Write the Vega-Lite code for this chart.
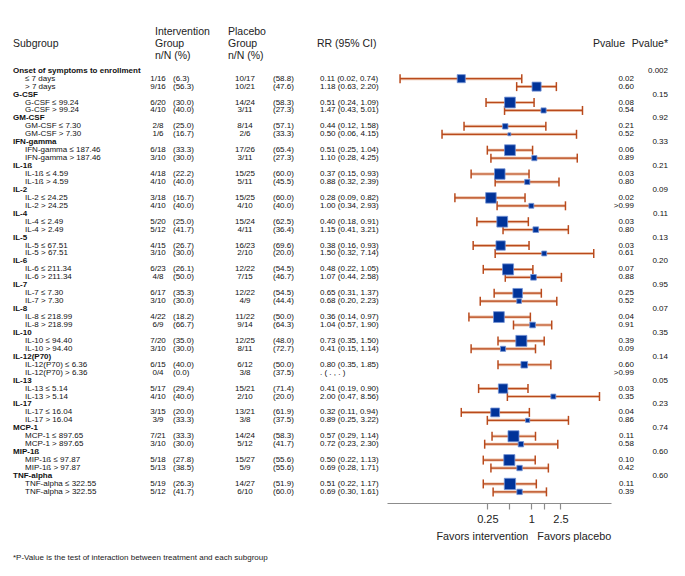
{
  "$schema": "https://vega.github.io/schema/vega-lite/v6.json",
  "padding": {"left": 13, "right": 17, "top": 0, "bottom": 0},
  "background": "white",
  "spacing": 0,
  "bounds": "flush",
  "config": {
    "view": {"stroke": null},
    "font": "Liberation Sans",
    "text": {"font": "Liberation Sans", "fontSize": 8, "color": "#111111", "baseline": "middle"}
  },
  "datasets": {
    "headers": [
      {"col": "sub", "text": "Subgroup"},
      {"col": "int", "text": "Intervention\nGroup\nn/N (%)"},
      {"col": "pla", "text": "Placebo\nGroup\nn/N (%)"},
      {"col": "rr", "text": "RR (95% CI)"},
      {"col": "p", "text": "Pvalue"},
      {"col": "pint", "text": "Pvalue*"},
      {"col": "favint", "text": "Favors intervention"},
      {"col": "favpla", "text": "Favors placebo"},
      {"col": "note", "text": "*P-Value is the test of interaction between treatment and each subgroup"}
    ],
    "rows": [
      {"r": 0, "kind": "head", "label": "Onset of symptoms to enrollment", "pint": "0.002"},
      {"r": 1, "kind": "item", "label": "≤ 7 days", "int_n": "1/16", "int_p": "(6.3)", "pla_n": "10/17", "pla_p": "(58.8)", "rr_txt": "0.11 (0.02, 0.74)", "rr": 0.11, "lo": 0.016, "hi": 0.74, "p": "0.02", "N": 33},
      {"r": 2, "kind": "item", "label": "> 7 days", "int_n": "9/16", "int_p": "(56.3)", "pla_n": "10/21", "pla_p": "(47.6)", "rr_txt": "1.18 (0.63, 2.20)", "rr": 1.18, "lo": 0.63, "hi": 2.2, "p": "0.60", "N": 37},
      {"r": 3, "kind": "head", "label": "G-CSF", "pint": "0.15"},
      {"r": 4, "kind": "item", "label": "G-CSF ≤ 99.24", "int_n": "6/20", "int_p": "(30.0)", "pla_n": "14/24", "pla_p": "(58.3)", "rr_txt": "0.51 (0.24, 1.09)", "rr": 0.51, "lo": 0.24, "hi": 1.09, "p": "0.08", "N": 44},
      {"r": 5, "kind": "item", "label": "G-CSF > 99.24", "int_n": "4/10", "int_p": "(40.0)", "pla_n": "3/11", "pla_p": "(27.3)", "rr_txt": "1.47 (0.43, 5.01)", "rr": 1.47, "lo": 0.43, "hi": 5.01, "p": "0.54", "N": 21},
      {"r": 6, "kind": "head", "label": "GM-CSF", "pint": "0.92"},
      {"r": 7, "kind": "item", "label": "GM-CSF ≤ 7.30", "int_n": "2/8", "int_p": "(25.0)", "pla_n": "8/14", "pla_p": "(57.1)", "rr_txt": "0.44 (0.12, 1.58)", "rr": 0.44, "lo": 0.12, "hi": 1.58, "p": "0.21", "N": 22},
      {"r": 8, "kind": "item", "label": "GM-CSF > 7.30", "int_n": "1/6", "int_p": "(16.7)", "pla_n": "2/6", "pla_p": "(33.3)", "rr_txt": "0.50 (0.06, 4.15)", "rr": 0.5, "lo": 0.06, "hi": 4.15, "p": "0.52", "N": 12},
      {"r": 9, "kind": "head", "label": "IFN-gamma", "pint": "0.33"},
      {"r": 10, "kind": "item", "label": "IFN-gamma ≤ 187.46", "int_n": "6/18", "int_p": "(33.3)", "pla_n": "17/26", "pla_p": "(65.4)", "rr_txt": "0.51 (0.25, 1.04)", "rr": 0.51, "lo": 0.25, "hi": 1.04, "p": "0.06", "N": 44},
      {"r": 11, "kind": "item", "label": "IFN-gamma > 187.46", "int_n": "3/10", "int_p": "(30.0)", "pla_n": "3/11", "pla_p": "(27.3)", "rr_txt": "1.10 (0.28, 4.25)", "rr": 1.1, "lo": 0.28, "hi": 4.25, "p": "0.89", "N": 21},
      {"r": 12, "kind": "head", "label": "IL-1ß", "pint": "0.21"},
      {"r": 13, "kind": "item", "label": "IL-1ß ≤ 4.59", "int_n": "4/18", "int_p": "(22.2)", "pla_n": "15/25", "pla_p": "(60.0)", "rr_txt": "0.37 (0.15, 0.93)", "rr": 0.37, "lo": 0.15, "hi": 0.93, "p": "0.03", "N": 43},
      {"r": 14, "kind": "item", "label": "IL-1ß > 4.59", "int_n": "4/10", "int_p": "(40.0)", "pla_n": "5/11", "pla_p": "(45.5)", "rr_txt": "0.88 (0.32, 2.39)", "rr": 0.88, "lo": 0.32, "hi": 2.39, "p": "0.80", "N": 21},
      {"r": 15, "kind": "head", "label": "IL-2", "pint": "0.09"},
      {"r": 16, "kind": "item", "label": "IL-2 ≤ 24.25", "int_n": "3/18", "int_p": "(16.7)", "pla_n": "15/25", "pla_p": "(60.0)", "rr_txt": "0.28 (0.09, 0.82)", "rr": 0.28, "lo": 0.09, "hi": 0.82, "p": "0.02", "N": 43},
      {"r": 17, "kind": "item", "label": "IL-2 > 24.25", "int_n": "4/10", "int_p": "(40.0)", "pla_n": "4/10", "pla_p": "(40.0)", "rr_txt": "1.00 (0.34, 2.93)", "rr": 1.0, "lo": 0.34, "hi": 2.93, "p": ">0.99", "N": 20},
      {"r": 18, "kind": "head", "label": "IL-4", "pint": "0.11"},
      {"r": 19, "kind": "item", "label": "IL-4 ≤ 2.49", "int_n": "5/20", "int_p": "(25.0)", "pla_n": "15/24", "pla_p": "(62.5)", "rr_txt": "0.40 (0.18, 0.91)", "rr": 0.4, "lo": 0.18, "hi": 0.91, "p": "0.03", "N": 44},
      {"r": 20, "kind": "item", "label": "IL-4 > 2.49", "int_n": "5/12", "int_p": "(41.7)", "pla_n": "4/11", "pla_p": "(36.4)", "rr_txt": "1.15 (0.41, 3.21)", "rr": 1.15, "lo": 0.41, "hi": 3.21, "p": "0.80", "N": 23},
      {"r": 21, "kind": "head", "label": "IL-5", "pint": "0.13"},
      {"r": 22, "kind": "item", "label": "IL-5 ≤ 67.51", "int_n": "4/15", "int_p": "(26.7)", "pla_n": "16/23", "pla_p": "(69.6)", "rr_txt": "0.38 (0.16, 0.93)", "rr": 0.38, "lo": 0.16, "hi": 0.93, "p": "0.03", "N": 38},
      {"r": 23, "kind": "item", "label": "IL-5 > 67.51", "int_n": "3/10", "int_p": "(30.0)", "pla_n": "2/10", "pla_p": "(20.0)", "rr_txt": "1.50 (0.32, 7.14)", "rr": 1.5, "lo": 0.32, "hi": 7.14, "p": "0.61", "N": 20},
      {"r": 24, "kind": "head", "label": "IL-6", "pint": "0.20"},
      {"r": 25, "kind": "item", "label": "IL-6 ≤ 211.34", "int_n": "6/23", "int_p": "(26.1)", "pla_n": "12/22", "pla_p": "(54.5)", "rr_txt": "0.48 (0.22, 1.05)", "rr": 0.48, "lo": 0.22, "hi": 1.05, "p": "0.07", "N": 45},
      {"r": 26, "kind": "item", "label": "IL-6 > 211.34", "int_n": "4/8", "int_p": "(50.0)", "pla_n": "7/15", "pla_p": "(46.7)", "rr_txt": "1.07 (0.44, 2.58)", "rr": 1.07, "lo": 0.44, "hi": 2.58, "p": "0.88", "N": 23},
      {"r": 27, "kind": "head", "label": "IL-7", "pint": "0.95"},
      {"r": 28, "kind": "item", "label": "IL-7 ≤ 7.30", "int_n": "6/17", "int_p": "(35.3)", "pla_n": "12/22", "pla_p": "(54.5)", "rr_txt": "0.65 (0.31, 1.37)", "rr": 0.65, "lo": 0.31, "hi": 1.37, "p": "0.25", "N": 39},
      {"r": 29, "kind": "item", "label": "IL-7 > 7.30", "int_n": "3/10", "int_p": "(30.0)", "pla_n": "4/9", "pla_p": "(44.4)", "rr_txt": "0.68 (0.20, 2.23)", "rr": 0.68, "lo": 0.2, "hi": 2.23, "p": "0.52", "N": 19},
      {"r": 30, "kind": "head", "label": "IL-8", "pint": "0.07"},
      {"r": 31, "kind": "item", "label": "IL-8 ≤ 218.99", "int_n": "4/22", "int_p": "(18.2)", "pla_n": "11/22", "pla_p": "(50.0)", "rr_txt": "0.36 (0.14, 0.97)", "rr": 0.36, "lo": 0.14, "hi": 0.97, "p": "0.04", "N": 44},
      {"r": 32, "kind": "item", "label": "IL-8 > 218.99", "int_n": "6/9", "int_p": "(66.7)", "pla_n": "9/14", "pla_p": "(64.3)", "rr_txt": "1.04 (0.57, 1.90)", "rr": 1.04, "lo": 0.57, "hi": 1.9, "p": "0.91", "N": 23},
      {"r": 33, "kind": "head", "label": "IL-10", "pint": "0.35"},
      {"r": 34, "kind": "item", "label": "IL-10 ≤ 94.40", "int_n": "7/20", "int_p": "(35.0)", "pla_n": "12/25", "pla_p": "(48.0)", "rr_txt": "0.73 (0.35, 1.50)", "rr": 0.73, "lo": 0.35, "hi": 1.5, "p": "0.39", "N": 45},
      {"r": 35, "kind": "item", "label": "IL-10 > 94.40", "int_n": "3/10", "int_p": "(30.0)", "pla_n": "8/11", "pla_p": "(72.7)", "rr_txt": "0.41 (0.15, 1.14)", "rr": 0.41, "lo": 0.15, "hi": 1.14, "p": "0.09", "N": 21},
      {"r": 36, "kind": "head", "label": "IL-12(P70)", "pint": "0.14"},
      {"r": 37, "kind": "item", "label": "IL-12(P70) ≤ 6.36", "int_n": "6/15", "int_p": "(40.0)", "pla_n": "6/12", "pla_p": "(50.0)", "rr_txt": "0.80 (0.35, 1.85)", "rr": 0.8, "lo": 0.35, "hi": 1.85, "p": "0.60", "N": 27},
      {"r": 38, "kind": "item", "label": "IL-12(P70) > 6.36", "int_n": "0/4", "int_p": "(0.0)", "pla_n": "3/8", "pla_p": "(37.5)", "rr_txt": " .  ( .  ,  . )", "p": ">0.99"},
      {"r": 39, "kind": "head", "label": "IL-13", "pint": "0.05"},
      {"r": 40, "kind": "item", "label": "IL-13 ≤ 5.14", "int_n": "5/17", "int_p": "(29.4)", "pla_n": "15/21", "pla_p": "(71.4)", "rr_txt": "0.41 (0.19, 0.90)", "rr": 0.41, "lo": 0.19, "hi": 0.9, "p": "0.03", "N": 38},
      {"r": 41, "kind": "item", "label": "IL-13 > 5.14", "int_n": "4/10", "int_p": "(40.0)", "pla_n": "2/10", "pla_p": "(20.0)", "rr_txt": "2.00 (0.47, 8.56)", "rr": 2.0, "lo": 0.47, "hi": 8.56, "p": "0.35", "N": 20},
      {"r": 42, "kind": "head", "label": "IL-17", "pint": "0.23"},
      {"r": 43, "kind": "item", "label": "IL-17 ≤ 16.04", "int_n": "3/15", "int_p": "(20.0)", "pla_n": "13/21", "pla_p": "(61.9)", "rr_txt": "0.32 (0.11, 0.94)", "rr": 0.32, "lo": 0.11, "hi": 0.94, "p": "0.04", "N": 36},
      {"r": 44, "kind": "item", "label": "IL-17 > 16.04", "int_n": "3/9", "int_p": "(33.3)", "pla_n": "3/8", "pla_p": "(37.5)", "rr_txt": "0.89 (0.25, 3.22)", "rr": 0.89, "lo": 0.25, "hi": 3.22, "p": "0.86", "N": 17},
      {"r": 45, "kind": "head", "label": "MCP-1", "pint": "0.74"},
      {"r": 46, "kind": "item", "label": "MCP-1 ≤ 897.65", "int_n": "7/21", "int_p": "(33.3)", "pla_n": "14/24", "pla_p": "(58.3)", "rr_txt": "0.57 (0.29, 1.14)", "rr": 0.57, "lo": 0.29, "hi": 1.14, "p": "0.11", "N": 45},
      {"r": 47, "kind": "item", "label": "MCP-1 > 897.65", "int_n": "3/10", "int_p": "(30.0)", "pla_n": "5/12", "pla_p": "(41.7)", "rr_txt": "0.72 (0.23, 2.30)", "rr": 0.72, "lo": 0.23, "hi": 2.3, "p": "0.58", "N": 22},
      {"r": 48, "kind": "head", "label": "MIP-1ß", "pint": "0.60"},
      {"r": 49, "kind": "item", "label": "MIP-1ß ≤ 97.87", "int_n": "5/18", "int_p": "(27.8)", "pla_n": "15/27", "pla_p": "(55.6)", "rr_txt": "0.50 (0.22, 1.13)", "rr": 0.5, "lo": 0.22, "hi": 1.13, "p": "0.10", "N": 45},
      {"r": 50, "kind": "item", "label": "MIP-1ß > 97.87", "int_n": "5/13", "int_p": "(38.5)", "pla_n": "5/9", "pla_p": "(55.6)", "rr_txt": "0.69 (0.28, 1.71)", "rr": 0.69, "lo": 0.28, "hi": 1.71, "p": "0.42", "N": 22},
      {"r": 51, "kind": "head", "label": "TNF-alpha", "pint": "0.60"},
      {"r": 52, "kind": "item", "label": "TNF-alpha ≤ 322.55", "int_n": "5/19", "int_p": "(26.3)", "pla_n": "14/27", "pla_p": "(51.9)", "rr_txt": "0.51 (0.22, 1.17)", "rr": 0.51, "lo": 0.22, "hi": 1.17, "p": "0.11", "N": 46},
      {"r": 53, "kind": "item", "label": "TNF-alpha > 322.55", "int_n": "5/12", "int_p": "(41.7)", "pla_n": "6/10", "pla_p": "(60.0)", "rr_txt": "0.69 (0.30, 1.61)", "rr": 0.69, "lo": 0.3, "hi": 1.61, "p": "0.39", "N": 22}
    ]
  },
  "hconcat": [
    {
      "width": 130, "height": 503,
      "layer": [
        {"data": {"name": "headers"}, "transform": [{"filter": "datum.col == 'sub'"}],
         "mark": {"type": "text", "align": "left", "fontSize": 10.5, "color": "#222222"},
         "encoding": {"x": {"datum": 0, "type": "quantitative", "scale": {"domain": [0, 1], "nice": false, "zero": false}, "axis": null},
                      "y": {"datum": -3.36, "type": "quantitative", "scale": {"domain": [-8.9, 54.4], "reverse": true, "nice": false, "zero": false}, "axis": null},
                      "text": {"field": "text"}}},
        {"data": {"name": "rows"}, "transform": [{"filter": "datum.kind == 'head'"}],
         "mark": {"type": "text", "align": "left", "fontWeight": "bold"},
         "encoding": {"x": {"datum": 0, "type": "quantitative", "scale": {"domain": [0, 1], "nice": false, "zero": false}, "axis": null},
                      "y": {"field": "r", "type": "quantitative", "scale": {"domain": [-8.9, 54.4], "reverse": true, "nice": false, "zero": false}, "axis": null},
                      "text": {"field": "label"}}},
        {"data": {"name": "rows"}, "transform": [{"filter": "datum.kind == 'item'"}],
         "mark": {"type": "text", "align": "left", "dx": 12},
         "encoding": {"x": {"datum": 0, "type": "quantitative", "scale": {"domain": [0, 1], "nice": false, "zero": false}, "axis": null},
                      "y": {"field": "r", "type": "quantitative", "scale": {"domain": [-8.9, 54.4], "reverse": true, "nice": false, "zero": false}, "axis": null},
                      "text": {"field": "label"}}},
        {"data": {"name": "headers"}, "transform": [{"filter": "datum.col == 'note'"}],
         "mark": {"type": "text", "align": "left", "fontSize": 8, "color": "#222222"},
         "encoding": {"x": {"datum": 0, "type": "quantitative", "scale": {"domain": [0, 1], "nice": false, "zero": false}, "axis": null},
                      "y": {"datum": 61.3, "type": "quantitative", "scale": {"domain": [-8.9, 54.4], "reverse": true, "nice": false, "zero": false}, "axis": null},
                      "text": {"field": "text"}}}
      ]
    },
    {
      "width": 30, "height": 503,
      "layer": [
        {"data": {"name": "headers"}, "transform": [{"filter": "datum.col == 'int'"}],
         "mark": {"type": "text", "align": "left", "fontSize": 10.5, "color": "#222222", "lineBreak": "\n", "lineHeight": 12, "dx": -3},
         "encoding": {"x": {"datum": 0.5, "type": "quantitative", "scale": {"domain": [0, 1], "nice": false, "zero": false}, "axis": null},
                      "y": {"datum": -4.87, "type": "quantitative", "scale": {"domain": [-8.9, 54.4], "reverse": true, "nice": false, "zero": false}, "axis": null},
                      "text": {"field": "text"}}},
        {"data": {"name": "rows"}, "transform": [{"filter": "datum.kind == 'item'"}],
         "mark": {"type": "text", "align": "center"},
         "encoding": {"x": {"datum": 0.5, "type": "quantitative", "scale": {"domain": [0, 1], "nice": false, "zero": false}, "axis": null},
                      "y": {"field": "r", "type": "quantitative", "scale": {"domain": [-8.9, 54.4], "reverse": true, "nice": false, "zero": false}, "axis": null},
                      "text": {"field": "int_n"}}}
      ]
    },
    {
      "width": 55, "height": 503,
      "layer": [
        {"data": {"name": "rows"}, "transform": [{"filter": "datum.kind == 'item'"}],
         "mark": {"type": "text", "align": "left"},
         "encoding": {"x": {"datum": 0, "type": "quantitative", "scale": {"domain": [0, 1], "nice": false, "zero": false}, "axis": null},
                      "y": {"field": "r", "type": "quantitative", "scale": {"domain": [-8.9, 54.4], "reverse": true, "nice": false, "zero": false}, "axis": null},
                      "text": {"field": "int_p"}}}
      ]
    },
    {
      "width": 34, "height": 503,
      "layer": [
        {"data": {"name": "headers"}, "transform": [{"filter": "datum.col == 'pla'"}],
         "mark": {"type": "text", "align": "left", "fontSize": 10.5, "color": "#222222", "lineBreak": "\n", "lineHeight": 12},
         "encoding": {"x": {"datum": 0, "type": "quantitative", "scale": {"domain": [0, 1], "nice": false, "zero": false}, "axis": null},
                      "y": {"datum": -4.87, "type": "quantitative", "scale": {"domain": [-8.9, 54.4], "reverse": true, "nice": false, "zero": false}, "axis": null},
                      "text": {"field": "text"}}},
        {"data": {"name": "rows"}, "transform": [{"filter": "datum.kind == 'item'"}],
         "mark": {"type": "text", "align": "center"},
         "encoding": {"x": {"datum": 0.5, "type": "quantitative", "scale": {"domain": [0, 1], "nice": false, "zero": false}, "axis": null},
                      "y": {"field": "r", "type": "quantitative", "scale": {"domain": [-8.9, 54.4], "reverse": true, "nice": false, "zero": false}, "axis": null},
                      "text": {"field": "pla_n"}}}
      ]
    },
    {
      "width": 55, "height": 503,
      "layer": [
        {"data": {"name": "rows"}, "transform": [{"filter": "datum.kind == 'item'"}],
         "mark": {"type": "text", "align": "left", "dx": 11},
         "encoding": {"x": {"datum": 0, "type": "quantitative", "scale": {"domain": [0, 1], "nice": false, "zero": false}, "axis": null},
                      "y": {"field": "r", "type": "quantitative", "scale": {"domain": [-8.9, 54.4], "reverse": true, "nice": false, "zero": false}, "axis": null},
                      "text": {"field": "pla_p"}}}
      ]
    },
    {
      "width": 70, "height": 503,
      "layer": [
        {"data": {"name": "headers"}, "transform": [{"filter": "datum.col == 'rr'"}],
         "mark": {"type": "text", "align": "left", "fontSize": 10.5, "color": "#222222"},
         "encoding": {"x": {"datum": 0, "type": "quantitative", "scale": {"domain": [0, 1], "nice": false, "zero": false}, "axis": null},
                      "y": {"datum": -3.36, "type": "quantitative", "scale": {"domain": [-8.9, 54.4], "reverse": true, "nice": false, "zero": false}, "axis": null},
                      "text": {"field": "text"}}},
        {"data": {"name": "rows"}, "transform": [{"filter": "datum.kind == 'item'"}],
         "mark": {"type": "text", "align": "left", "dx": 3},
         "encoding": {"x": {"datum": 0, "type": "quantitative", "scale": {"domain": [0, 1], "nice": false, "zero": false}, "axis": null},
                      "y": {"field": "r", "type": "quantitative", "scale": {"domain": [-8.9, 54.4], "reverse": true, "nice": false, "zero": false}, "axis": null},
                      "text": {"field": "rr_txt"}}}
      ]
    },
    {
      "width": 224, "height": 503,
      "layer": [
        {"mark": {"type": "rule", "color": "#a8a8a8", "strokeWidth": 1.5},
         "encoding": {"x": {"datum": 1, "type": "quantitative", "title": null, "scale": {"type": "log", "domain": [0.0106, 12.3], "nice": false},
                            "axis": {"values": [0.25, 0.5, 1, 1.5, 2.5], "format": "~g", "labelExpr": "datum.value == 0.5 || datum.value == 1.5 ? '' : datum.label", "grid": false, "title": null, "domainColor": "#8c8c8c", "domainWidth": 1.2, "tickColor": "#8c8c8c", "tickWidth": 1.2, "tickSize": 6, "labelFontSize": 11, "labelFont": "Liberation Sans", "labelColor": "#222222", "labelPadding": 4, "labelOverlap": false, "labelFlush": false}},
                      "y": {"datum": -2.3, "type": "quantitative", "scale": {"domain": [-8.9, 54.4], "reverse": true, "nice": false, "zero": false}, "axis": null},
                      "y2": {"datum": 54.4}}},
        {"data": {"name": "rows"}, "transform": [{"filter": "isValid(datum.rr)"}],
         "mark": {"type": "rule", "color": "#ebbfa6", "strokeWidth": 3},
         "encoding": {"x": {"field": "lo", "type": "quantitative", "title": null}, "x2": {"field": "hi"},
                      "y": {"field": "r", "type": "quantitative", "axis": null}}},
        {"data": {"name": "rows"}, "transform": [{"filter": "isValid(datum.rr)"}],
         "mark": {"type": "rule", "color": "#b94a1c", "strokeWidth": 1.2},
         "encoding": {"x": {"field": "lo", "type": "quantitative", "title": null}, "x2": {"field": "hi"},
                      "y": {"field": "r", "type": "quantitative", "axis": null}}},
        {"data": {"name": "rows"}, "transform": [{"filter": "isValid(datum.rr)"}],
         "mark": {"type": "tick", "orient": "vertical", "color": "#b94a1c", "size": 9, "thickness": 1.5, "opacity": 1},
         "encoding": {"x": {"field": "lo", "type": "quantitative", "title": null},
                      "y": {"field": "r", "type": "quantitative", "axis": null}}},
        {"data": {"name": "rows"}, "transform": [{"filter": "isValid(datum.rr)"}],
         "mark": {"type": "tick", "orient": "vertical", "color": "#b94a1c", "size": 9, "thickness": 1.5, "opacity": 1},
         "encoding": {"x": {"field": "hi", "type": "quantitative", "title": null},
                      "y": {"field": "r", "type": "quantitative", "axis": null}}},
        {"data": {"name": "rows"}, "transform": [{"filter": "isValid(datum.rr)"}],
         "mark": {"type": "point", "shape": "square", "filled": true, "color": "#003399", "stroke": "#7393d6", "strokeWidth": 0.8, "opacity": 1},
         "encoding": {"x": {"field": "rr", "type": "quantitative", "title": null},
                      "y": {"field": "r", "type": "quantitative", "axis": null},
                      "size": {"field": "N", "type": "quantitative", "scale": {"type": "pow", "exponent": 2, "domain": [0, 50], "range": [0, 150]}, "legend": null}}},
        {"data": {"name": "headers"}, "transform": [{"filter": "datum.col == 'favint'"}],
         "mark": {"type": "text", "align": "right", "dx": -3, "fontSize": 10.8, "color": "#222222"},
         "encoding": {"x": {"datum": 1, "type": "quantitative", "title": null},
                      "y": {"datum": 58.7, "type": "quantitative", "axis": null},
                      "text": {"field": "text"}}},
        {"data": {"name": "headers"}, "transform": [{"filter": "datum.col == 'favpla'"}],
         "mark": {"type": "text", "align": "left", "dx": 6, "fontSize": 10.8, "color": "#222222"},
         "encoding": {"x": {"datum": 1, "type": "quantitative", "title": null},
                      "y": {"datum": 58.7, "type": "quantitative", "axis": null},
                      "text": {"field": "text"}}}
      ]
    },
    {
      "width": 23, "height": 503,
      "layer": [
        {"data": {"name": "headers"}, "transform": [{"filter": "datum.col == 'p'"}],
         "mark": {"type": "text", "align": "right", "dx": -9, "fontSize": 10.5, "color": "#222222"},
         "encoding": {"x": {"datum": 1, "type": "quantitative", "scale": {"domain": [0, 1], "nice": false, "zero": false}, "axis": null},
                      "y": {"datum": -3.36, "type": "quantitative", "scale": {"domain": [-8.9, 54.4], "reverse": true, "nice": false, "zero": false}, "axis": null},
                      "text": {"field": "text"}}},
        {"data": {"name": "rows"}, "transform": [{"filter": "datum.kind == 'item'"}],
         "mark": {"type": "text", "align": "right"},
         "encoding": {"x": {"datum": 1, "type": "quantitative", "scale": {"domain": [0, 1], "nice": false, "zero": false}, "axis": null},
                      "y": {"field": "r", "type": "quantitative", "scale": {"domain": [-8.9, 54.4], "reverse": true, "nice": false, "zero": false}, "axis": null},
                      "text": {"field": "p"}}}
      ]
    },
    {
      "width": 34, "height": 503,
      "layer": [
        {"data": {"name": "headers"}, "transform": [{"filter": "datum.col == 'pint'"}],
         "mark": {"type": "text", "align": "right", "fontSize": 10.5, "color": "#222222"},
         "encoding": {"x": {"datum": 1, "type": "quantitative", "scale": {"domain": [0, 1], "nice": false, "zero": false}, "axis": null},
                      "y": {"datum": -3.36, "type": "quantitative", "scale": {"domain": [-8.9, 54.4], "reverse": true, "nice": false, "zero": false}, "axis": null},
                      "text": {"field": "text"}}},
        {"data": {"name": "rows"}, "transform": [{"filter": "datum.kind == 'head'"}],
         "mark": {"type": "text", "align": "right"},
         "encoding": {"x": {"datum": 1, "type": "quantitative", "scale": {"domain": [0, 1], "nice": false, "zero": false}, "axis": null},
                      "y": {"field": "r", "type": "quantitative", "scale": {"domain": [-8.9, 54.4], "reverse": true, "nice": false, "zero": false}, "axis": null},
                      "text": {"field": "pint"}}}
      ]
    }
  ]
}
